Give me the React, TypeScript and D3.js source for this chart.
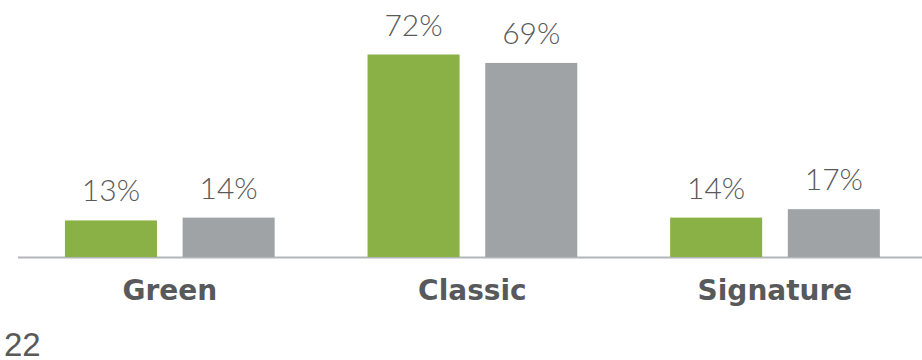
import React from "react";
import * as d3 from "d3";

const categories = ["Green", "Classic", "Signature"];
const series = ["A", "B"];
const seriesA = [13, 72, 14];
const seriesB = [14, 69, 17];
const pageNumber = "22";

const W = 922;
const H = 360;
const colors = ["#8AB146", "#A0A3A6"];

export default function App() {
  const x0 = d3.scaleBand<string>().domain(categories).range([18.5, 926.3]).paddingInner(0.307).paddingOuter(0.1535);
  const x1 = d3.scaleBand<string>().domain(series).range([0, x0.bandwidth()]).paddingInner(0.218);
  const y = d3.scaleLinear().domain([0, 80]).range([257, 32]);
  const values = [seriesA, seriesB];
  const baseY = 257.5;
  return (
    <svg width={W} height={H} style={{ position: "absolute", left: 0, top: 0, background: "#fff" }}>
      <line x1={18} x2={W} y1={baseY} y2={baseY} stroke="#B4B5B8" strokeWidth={2.2} />
      {categories.map((c, ci) => (
        <g key={c} transform={`translate(${x0(c)},0)`}>
          {series.map((s, si) => {
            const v = values[si][ci];
            const bx = x1(s)!;
            return (
              <g key={s}>
                <rect x={bx} y={y(v)} width={x1.bandwidth()} height={y(0) - y(v)} fill={colors[si]} />
                <text
                  x={bx + x1.bandwidth() / 2}
                  y={y(v) - 19}
                  textAnchor="middle"
                  fontFamily="Lato, 'DejaVu Sans', sans-serif"
                  fontWeight={300}
                  fontSize={30}
                  fill="#595959"
                >
                  {v}%
                </text>
              </g>
            );
          })}
          <text
            x={x0.bandwidth() / 2}
            y={300}
            textAnchor="middle"
            fontFamily="'DejaVu Sans', sans-serif"
            fontWeight={700}
            fontSize={28}
            fill="#58595B"
          >
            {c}
          </text>
        </g>
      ))}
      <text x={4} y={356} fontFamily="'Liberation Sans', Arial, sans-serif" fontSize={33} fill="#595959">
        {pageNumber}
      </text>
    </svg>
  );
}
